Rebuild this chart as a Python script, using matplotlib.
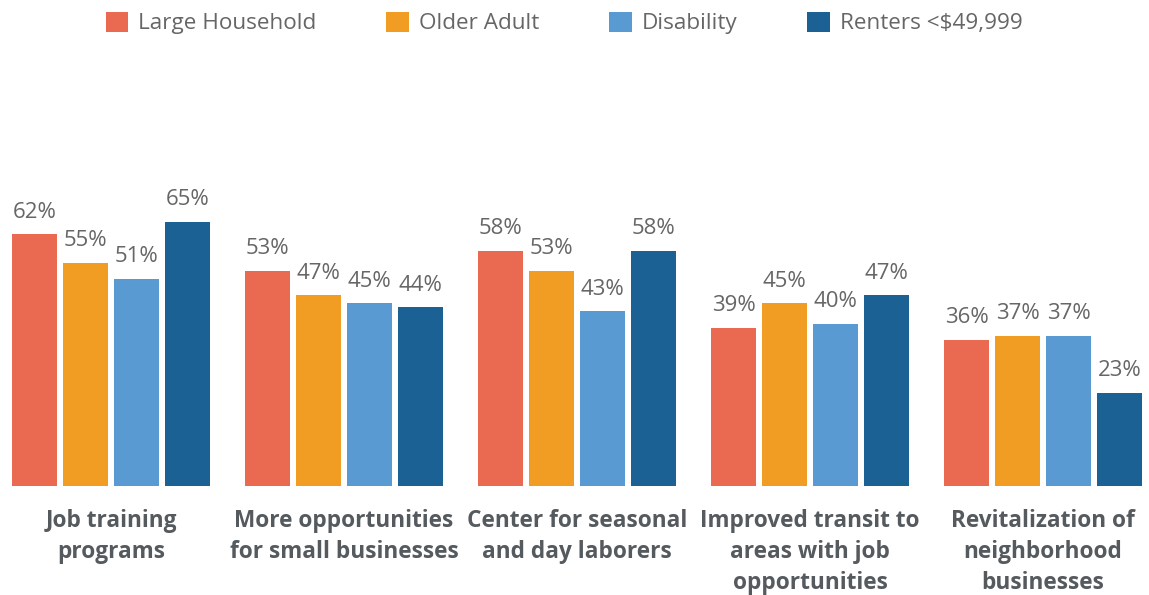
import matplotlib
matplotlib.use("Agg")
import matplotlib.pyplot as plt
import numpy as np
from matplotlib.patches import Patch

plt.rcParams['font.family'] = ['Open Sans', 'DejaVu Sans']

categories = [
    "Job training\nprograms",
    "More opportunities\nfor small businesses",
    "Center for seasonal\nand day laborers",
    "Improved transit to\nareas with job\nopportunities",
    "Revitalization of\nneighborhood\nbusinesses",
]
series_names = ["Large Household", "Older Adult", "Disability", "Renters <$49,999"]
large_household = [62, 53, 58, 39, 36]
older_adult = [55, 47, 53, 45, 37]
disability = [51, 45, 43, 40, 37]
renters = [65, 44, 58, 47, 23]
series_values = [large_household, older_adult, disability, renters]
colors = ["#E96951", "#F19D23", "#5A9AD3", "#1B6193"]

W, H = 1149, 595
fig = plt.figure(figsize=(W / 100, H / 100), dpi=100)
ax = fig.add_axes([0, (H - 486) / H, 1, 386 / H])

x = np.arange(len(categories))
step = 0.219
width = 0.197
for i, (vals, col) in enumerate(zip(series_values, colors)):
    pos = x + (i - 1.5) * step
    bars = ax.bar(pos, vals, width=width, color=col, edgecolor='none')
    for b, v in zip(bars, vals):
        ax.annotate(f"{v}%", (b.get_x() + b.get_width() / 2, v),
                    xytext=(0, 12), textcoords="offset points",
                    ha="center", va="baseline", fontsize=16, color="#666666")

ax.set_xlim(-111 / 233, (W - 111) / 233)
ax.set_ylim(0, 386 / 4.06)
ax.axis("off")

for xi, cat in zip(x, categories):
    ax.annotate(cat, (xi, 0), xytext=(0, -16.5), textcoords="offset points",
                ha="center", va="top", fontsize=16.3, fontweight="bold",
                color="#555A5E", linespacing=1.4)

handles = [Patch(facecolor=c, edgecolor='none') for c in colors]
fig.legend(handles, series_names, loc="center", bbox_to_anchor=(0.491, 1 - 23 / H),
           ncol=4, frameon=False, fontsize=16.2, handlelength=1.0, handleheight=1.0,
           handletextpad=0.45, columnspacing=3.1, labelcolor="#666666")

fig.savefig("out.png", dpi=100)
